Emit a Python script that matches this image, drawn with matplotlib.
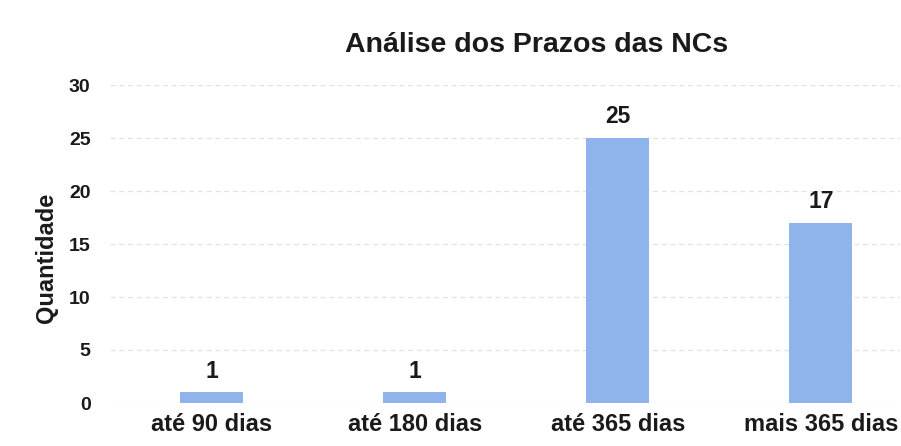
import matplotlib
matplotlib.use("Agg")
import matplotlib.pyplot as plt

plt.rcParams['font.family'] = ['Liberation Sans', 'DejaVu Sans']

categories = ["até 90 dias", "até 180 dias", "até 365 dias", "mais 365 dias"]
values = [1, 1, 25, 17]
yticks = [0, 5, 10, 15, 20, 25, 30]

fig = plt.figure(figsize=(9.01, 4.46), dpi=100)
ax = fig.add_axes([110/901, 1-403/446, (900-110)/901, (403-85)/446])

x = list(range(len(categories)))
bars = ax.bar(x, values, width=0.31, color="#8fb4ec", zorder=2)

for xi, v in zip(x, values):
    ax.text(xi, v + 0.9, str(v), ha="center", va="bottom", fontsize=16.5,
            fontweight="bold", color="#1a1a1a")

ax.set_xlim(-0.5, 3.39)
ax.set_ylim(0, 30)
ax.set_yticks(yticks)
ax.set_xticks(x)
ax.set_xticklabels(categories, fontsize=17, fontweight="bold", color="#1a1a1a")
ax.tick_params(axis="y", labelsize=14, colors="#1a1a1a", length=0, pad=14)
for lbl in ax.get_yticklabels():
    lbl.set_fontweight("bold")
ax.tick_params(axis="x", length=0, pad=7)
ax.yaxis.grid(True, color="#e2e2e2", linestyle=(0, (4, 3)), linewidth=0.9, zorder=0)
ax.set_axisbelow(True)
for s in ax.spines.values():
    s.set_visible(False)

ax.set_ylabel("Quantidade", fontsize=17, fontweight="bold", color="#1a1a1a")
ax.yaxis.set_label_coords(-(110-58)/790, (403-258)/318)
fig.text(537/901, 1-45/446, "Análise dos Prazos das NCs", ha="center", va="center",
         fontsize=20.5, fontweight="bold", color="#1a1a1a")

fig.savefig("out.png", dpi=100)
